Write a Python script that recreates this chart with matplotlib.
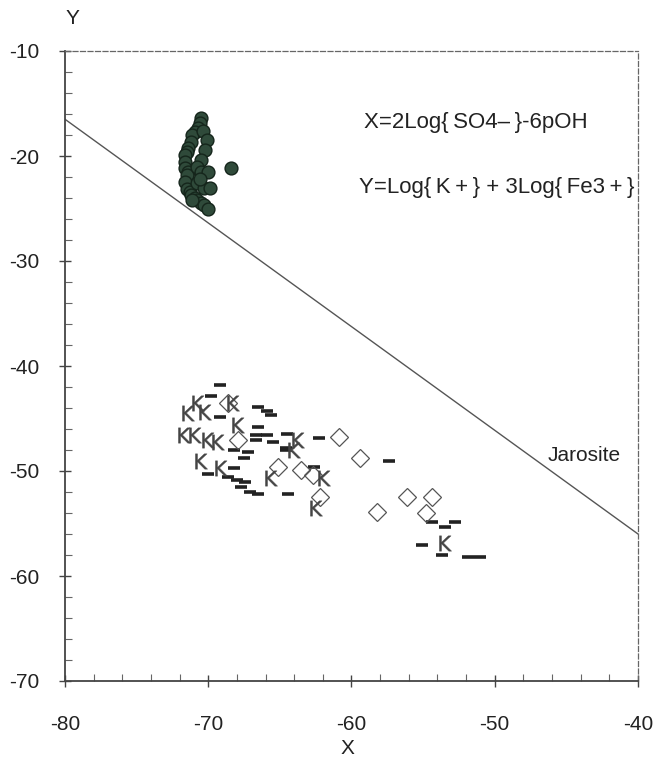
import matplotlib
matplotlib.use('Agg')
import matplotlib.pyplot as plt
from matplotlib.ticker import MultipleLocator

plt.rcParams['font.family'] = ['Liberation Sans', 'DejaVu Sans']
plt.rcParams['axes.unicode_minus'] = False

# jarosite stability line end points
jarosite_x = [-80, -40]
jarosite_y = [-16.5, -56.0]

# filled green points (upper cluster)
green_x = [-70.5, -70.6, -70.7, -70.9, -71.1, -71.2, -71.4, -71.5, -71.6, -71.6, -71.6, -71.4,
           -71.5, -71.6, -71.5, -71.3, -71.2, -70.9, -70.8, -70.5, -70.3, -70.0, -70.4, -70.1,
           -70.2, -70.5, -70.8, -70.5, -70.0, -70.8, -70.3, -69.9, -71.1, -70.6, -68.4]
green_y = [-16.4, -16.9, -17.3, -17.7, -18.0, -18.7, -19.2, -19.6, -19.9, -20.6, -21.1, -21.5,
           -21.8, -22.5, -23.1, -23.4, -23.7, -24.0, -24.2, -24.5, -24.7, -25.0, -17.6, -18.5,
           -19.4, -20.4, -21.0, -21.5, -21.5, -22.6, -23.0, -23.0, -24.2, -22.2, -21.1]

# open diamonds
diamond_x = [-68.6, -67.9, -65.1, -63.5, -62.7, -62.2, -60.9, -59.4, -58.2, -56.1, -54.4, -54.8]
diamond_y = [-43.5, -47.0, -49.6, -49.9, -50.4, -52.5, -46.8, -48.8, -53.9, -52.5, -52.5, -54.0]

# "K" shaped markers
k_x = [-70.7, -68.3, -71.4, -70.2, -71.7, -70.9, -70.0, -69.3, -67.9, -63.7, -70.5, -69.1,
       -65.6, -61.9, -62.5, -53.5, -64.0]
k_y = [-43.5, -43.5, -44.5, -44.4, -46.6, -46.6, -47.0, -47.2, -45.6, -47.0, -49.0, -49.7,
       -50.7, -50.7, -53.5, -56.9, -48.0]

# short horizontal dashes
dash_x = [-69.2, -69.8, -66.5, -65.9, -65.6, -69.2, -66.5, -66.7, -65.9, -66.7, -64.5, -62.3,
          -68.2, -67.2, -67.5, -64.6, -68.2, -70.0, -68.6, -68.0, -67.4, -67.7, -67.1, -66.5,
          -64.4, -57.4, -54.4, -52.8, -53.5, -55.1, -53.7, -51.9, -51.0, -62.6, -65.5, -64.6]
dash_y = [-41.8, -42.9, -43.9, -44.3, -44.7, -44.9, -45.8, -46.6, -46.6, -47.0, -46.5, -46.9,
          -48.0, -48.2, -48.8, -47.8, -49.7, -50.3, -50.6, -50.9, -51.0, -51.5, -52.0, -52.2,
          -52.2, -49.0, -54.9, -54.9, -55.3, -57.0, -58.0, -58.2, -58.2, -49.6, -47.2, -48.0]

fig = plt.figure(figsize=(6.62, 7.72), dpi=100)
ax = fig.add_axes([65/662, 1 - 681/772, 573/662, 630/772])

ax.plot(jarosite_x, jarosite_y, color='#555555', lw=1.0)

ax.plot(dash_x, dash_y, ls='none', marker='_', ms=9, mew=2.6, color='#222222')
ax.plot(diamond_x, diamond_y, ls='none', marker='D', ms=9, mfc='none', mec='#555555', mew=0.9)
ax.plot(k_x, k_y, ls='none', marker='$\\mathrm{K}$', ms=11, color='#444444', mew=0.3)
ax.scatter(green_x, green_y, s=85, color='#2f4a3a', edgecolors='#15251b', linewidths=1.0, zorder=3)

ts = 15
ax.text(-59.1, -16.8, 'X=2Log{\u2009SO4\u2013\u2009}-6pOH', fontsize=16, ha='left', va='center',
        color='#222222')
ax.text(-59.5, -23.0, 'Y=Log{\u2009K\u2009+\u2009} + 3Log{\u2009Fe3\u2009+\u2009}', fontsize=16,
        ha='left', va='center', color='#222222', clip_on=True)
ax.text(-46.3, -48.5, 'Jarosite', fontsize=ts, ha='left', va='center', color='#222222')

ax.set_xlim(-80, -40)
ax.set_ylim(-70, -10)
ax.xaxis.set_major_locator(MultipleLocator(10))
ax.xaxis.set_minor_locator(MultipleLocator(2))
ax.yaxis.set_major_locator(MultipleLocator(10))
ax.yaxis.set_minor_locator(MultipleLocator(2))
ax.tick_params(which='major', direction='inout', length=9, width=1.0, color='#444444',
               labelsize=ts, labelcolor='#222222')
ax.tick_params(which='minor', direction='in', length=5, width=0.8, color='#666666')
ax.tick_params(axis='x', which='major', pad=20)
ax.tick_params(axis='y', which='major', pad=14)

for side in ['left', 'bottom']:
    ax.spines[side].set_color('#444444')
    ax.spines[side].set_linewidth(1.3)
for side in ['top', 'right']:
    ax.spines[side].set_color('#666666')
    ax.spines[side].set_linewidth(0.9)
    ax.spines[side].set_linestyle((0, (4, 2)))

fig.text(72/662, 1 - 18/772, 'Y', fontsize=ts, ha='center', va='center', color='#222222')
fig.text(347/662, 1 - 748/772, 'X', fontsize=ts, ha='center', va='center', color='#222222')

fig.savefig('out.png', dpi=100)
